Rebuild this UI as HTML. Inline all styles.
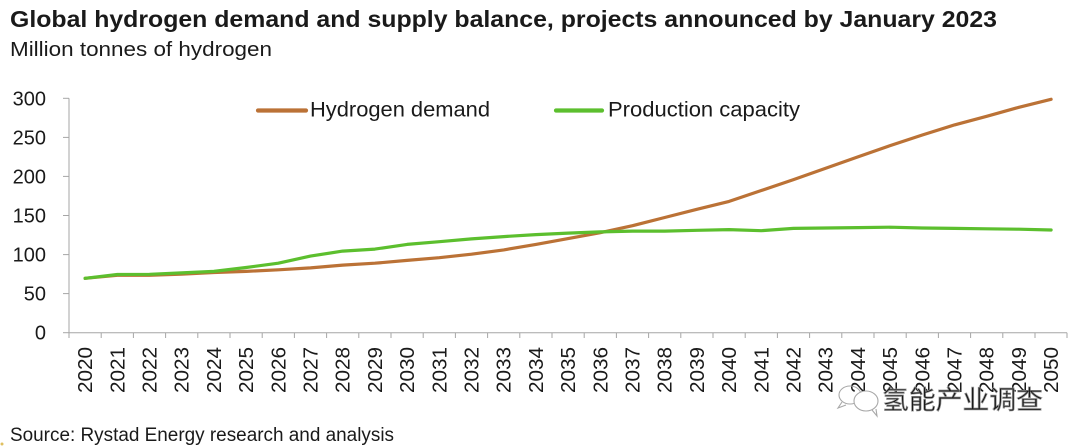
<!DOCTYPE html>
<html>
<head>
<meta charset="utf-8">
<style>
  html,body{margin:0;padding:0;background:#fff;}
  body{width:1080px;height:448px;overflow:hidden;}
  svg{display:block;}
  text{font-family:"Liberation Sans","Noto Sans CJK SC",sans-serif;fill:#1a1a1a;}
</style>
</head>
<body>
<svg width="1080" height="448" viewBox="0 0 1080 448" xmlns="http://www.w3.org/2000/svg">
  <rect width="1080" height="448" fill="#fff"/>
  <!-- Title -->
  <text x="10" y="27" font-size="23" font-weight="bold" textLength="987" lengthAdjust="spacingAndGlyphs">Global hydrogen demand and supply balance, projects announced by January 2023</text>
  <text x="10" y="56" font-size="20" textLength="262" lengthAdjust="spacingAndGlyphs" fill="#222">Million tonnes of hydrogen</text>

  <!-- Axes -->
  <g stroke="#a6a6a6" stroke-width="1" fill="none">
    <line x1="69" y1="98.3" x2="69" y2="332.7"/>
    <line x1="69" y1="332.7" x2="1067" y2="332.7"/>
    <!-- y ticks -->
    <line x1="63" y1="332.7" x2="69" y2="332.7"/>
    <line x1="63" y1="293.6" x2="69" y2="293.6"/>
    <line x1="63" y1="254.6" x2="69" y2="254.6"/>
    <line x1="63" y1="215.5" x2="69" y2="215.5"/>
    <line x1="63" y1="176.4" x2="69" y2="176.4"/>
    <line x1="63" y1="137.4" x2="69" y2="137.4"/>
    <line x1="63" y1="98.3" x2="69" y2="98.3"/>
    <!-- x ticks -->
    <line x1="69" y1="332.7" x2="69" y2="338"/>
    <line x1="101.2" y1="332.7" x2="101.2" y2="338"/>
    <line x1="133.4" y1="332.7" x2="133.4" y2="338"/>
    <line x1="165.6" y1="332.7" x2="165.6" y2="338"/>
    <line x1="197.8" y1="332.7" x2="197.8" y2="338"/>
    <line x1="230" y1="332.7" x2="230" y2="338"/>
    <line x1="262.2" y1="332.7" x2="262.2" y2="338"/>
    <line x1="294.4" y1="332.7" x2="294.4" y2="338"/>
    <line x1="326.6" y1="332.7" x2="326.6" y2="338"/>
    <line x1="358.8" y1="332.7" x2="358.8" y2="338"/>
    <line x1="391" y1="332.7" x2="391" y2="338"/>
    <line x1="423.2" y1="332.7" x2="423.2" y2="338"/>
    <line x1="455.4" y1="332.7" x2="455.4" y2="338"/>
    <line x1="487.6" y1="332.7" x2="487.6" y2="338"/>
    <line x1="519.8" y1="332.7" x2="519.8" y2="338"/>
    <line x1="552" y1="332.7" x2="552" y2="338"/>
    <line x1="584.2" y1="332.7" x2="584.2" y2="338"/>
    <line x1="616.4" y1="332.7" x2="616.4" y2="338"/>
    <line x1="648.6" y1="332.7" x2="648.6" y2="338"/>
    <line x1="680.8" y1="332.7" x2="680.8" y2="338"/>
    <line x1="713" y1="332.7" x2="713" y2="338"/>
    <line x1="745.2" y1="332.7" x2="745.2" y2="338"/>
    <line x1="777.4" y1="332.7" x2="777.4" y2="338"/>
    <line x1="809.6" y1="332.7" x2="809.6" y2="338"/>
    <line x1="841.8" y1="332.7" x2="841.8" y2="338"/>
    <line x1="874" y1="332.7" x2="874" y2="338"/>
    <line x1="906.2" y1="332.7" x2="906.2" y2="338"/>
    <line x1="938.4" y1="332.7" x2="938.4" y2="338"/>
    <line x1="970.6" y1="332.7" x2="970.6" y2="338"/>
    <line x1="1002.8" y1="332.7" x2="1002.8" y2="338"/>
    <line x1="1035" y1="332.7" x2="1035" y2="338"/>
    <line x1="1067" y1="332.7" x2="1067" y2="338"/>
  </g>

  <!-- Y labels -->
  <g font-size="20" text-anchor="end">
    <text x="46" y="339.7">0</text>
    <text x="46" y="300.6">50</text>
    <text x="46" y="261.6">100</text>
    <text x="46" y="222.5">150</text>
    <text x="46" y="183.4">200</text>
    <text x="46" y="144.4">250</text>
    <text x="46" y="105.3">300</text>
  </g>

  <!-- X labels (rotated) -->
  <g font-size="20" text-anchor="end">
    <text transform="translate(92.1,347) rotate(-90)" textLength="46" lengthAdjust="spacingAndGlyphs">2020</text>
    <text transform="translate(124.3,347) rotate(-90)" textLength="46" lengthAdjust="spacingAndGlyphs">2021</text>
    <text transform="translate(156.5,347) rotate(-90)" textLength="46" lengthAdjust="spacingAndGlyphs">2022</text>
    <text transform="translate(188.7,347) rotate(-90)" textLength="46" lengthAdjust="spacingAndGlyphs">2023</text>
    <text transform="translate(220.9,347) rotate(-90)" textLength="46" lengthAdjust="spacingAndGlyphs">2024</text>
    <text transform="translate(253.1,347) rotate(-90)" textLength="46" lengthAdjust="spacingAndGlyphs">2025</text>
    <text transform="translate(285.3,347) rotate(-90)" textLength="46" lengthAdjust="spacingAndGlyphs">2026</text>
    <text transform="translate(317.5,347) rotate(-90)" textLength="46" lengthAdjust="spacingAndGlyphs">2027</text>
    <text transform="translate(349.7,347) rotate(-90)" textLength="46" lengthAdjust="spacingAndGlyphs">2028</text>
    <text transform="translate(381.9,347) rotate(-90)" textLength="46" lengthAdjust="spacingAndGlyphs">2029</text>
    <text transform="translate(414.1,347) rotate(-90)" textLength="46" lengthAdjust="spacingAndGlyphs">2030</text>
    <text transform="translate(446.3,347) rotate(-90)" textLength="46" lengthAdjust="spacingAndGlyphs">2031</text>
    <text transform="translate(478.5,347) rotate(-90)" textLength="46" lengthAdjust="spacingAndGlyphs">2032</text>
    <text transform="translate(510.7,347) rotate(-90)" textLength="46" lengthAdjust="spacingAndGlyphs">2033</text>
    <text transform="translate(542.9,347) rotate(-90)" textLength="46" lengthAdjust="spacingAndGlyphs">2034</text>
    <text transform="translate(575.1,347) rotate(-90)" textLength="46" lengthAdjust="spacingAndGlyphs">2035</text>
    <text transform="translate(607.3,347) rotate(-90)" textLength="46" lengthAdjust="spacingAndGlyphs">2036</text>
    <text transform="translate(639.5,347) rotate(-90)" textLength="46" lengthAdjust="spacingAndGlyphs">2037</text>
    <text transform="translate(671.7,347) rotate(-90)" textLength="46" lengthAdjust="spacingAndGlyphs">2038</text>
    <text transform="translate(703.9,347) rotate(-90)" textLength="46" lengthAdjust="spacingAndGlyphs">2039</text>
    <text transform="translate(736.1,347) rotate(-90)" textLength="46" lengthAdjust="spacingAndGlyphs">2040</text>
    <text transform="translate(768.3,347) rotate(-90)" textLength="46" lengthAdjust="spacingAndGlyphs">2041</text>
    <text transform="translate(800.5,347) rotate(-90)" textLength="46" lengthAdjust="spacingAndGlyphs">2042</text>
    <text transform="translate(832.7,347) rotate(-90)" textLength="46" lengthAdjust="spacingAndGlyphs">2043</text>
    <text transform="translate(864.9,347) rotate(-90)" textLength="46" lengthAdjust="spacingAndGlyphs">2044</text>
    <text transform="translate(897.1,347) rotate(-90)" textLength="46" lengthAdjust="spacingAndGlyphs">2045</text>
    <text transform="translate(929.3,347) rotate(-90)" textLength="46" lengthAdjust="spacingAndGlyphs">2046</text>
    <text transform="translate(961.5,347) rotate(-90)" textLength="46" lengthAdjust="spacingAndGlyphs">2047</text>
    <text transform="translate(993.7,347) rotate(-90)" textLength="46" lengthAdjust="spacingAndGlyphs">2048</text>
    <text transform="translate(1025.9,347) rotate(-90)" textLength="46" lengthAdjust="spacingAndGlyphs">2049</text>
    <text transform="translate(1058.1,347) rotate(-90)" textLength="46" lengthAdjust="spacingAndGlyphs">2050</text>
  </g>

  <!-- Series: Hydrogen demand -->
  <polyline fill="none" stroke="#bb7236" stroke-width="3.2" stroke-linejoin="round" stroke-linecap="round"
    points="85.1,278.3 117.3,275.3 149.5,275.3 181.7,274.1 213.9,272.5 246.1,271.4 278.3,269.8 310.5,267.9 342.7,265.1 374.9,263.2 407.1,260.4 439.3,257.7 471.5,254.2 503.7,249.9 535.9,244.4 568.1,238.6 600.3,232.7 632.5,225.7 664.7,217.5 696.9,209.3 729.1,201.4 761.3,190.5 793.5,179.6 825.7,168.2 857.9,156.9 890.1,145.6 922.3,135.0 954.5,124.9 986.7,116.3 1018.9,107.3 1051.1,99.3"/>
  <!-- Series: Production capacity -->
  <polyline fill="none" stroke="#5cbf2e" stroke-width="3.2" stroke-linejoin="round" stroke-linecap="round"
    points="85.1,278.3 117.3,274.5 149.5,274.3 181.7,272.9 213.9,271.4 246.1,267.5 278.3,263.2 310.5,256.1 342.7,251.1 374.9,249.1 407.1,244.4 439.3,241.7 471.5,238.9 503.7,236.6 535.9,234.6 568.1,233.1 600.3,231.9 632.5,231.1 664.7,231.1 696.9,230.3 729.1,229.6 761.3,230.7 793.5,228.4 825.7,228.0 857.9,227.6 890.1,227.2 922.3,228.0 954.5,228.4 986.7,228.8 1018.9,229.2 1051.1,230.0"/>

  <!-- Legend -->
  <line x1="258" y1="110.5" x2="306" y2="110.5" stroke="#bb7236" stroke-width="4.2" stroke-linecap="round"/>
  <text x="310" y="116.5" font-size="21" textLength="180" lengthAdjust="spacingAndGlyphs">Hydrogen demand</text>
  <line x1="556" y1="110.5" x2="602" y2="110.5" stroke="#5cbf2e" stroke-width="4.2" stroke-linecap="round"/>
  <text x="608" y="116.5" font-size="21" textLength="192" lengthAdjust="spacingAndGlyphs">Production capacity</text>

  <!-- Watermark -->
  <g fill="none" stroke="#a8a8a8" stroke-width="1.1">
    <ellipse cx="850" cy="395" rx="11" ry="9"/>
    <ellipse cx="866" cy="401" rx="12" ry="10" fill="#fff"/>
    <path d="M842,402 l-4,6 l8,-3"/>
    <path d="M872,410 l5,6 l-1,-7"/>
  </g>
  <text x="882" y="409" font-size="26" fill="#f2f2f2" stroke="#9a9a9a" stroke-width="0.7" textLength="161" lengthAdjust="spacingAndGlyphs" style="font-family:'Noto Sans CJK SC',sans-serif;">氢能产业调查</text>

  <!-- Source -->
  <text x="10" y="441" font-size="19" textLength="384" lengthAdjust="spacingAndGlyphs" fill="#222">Source: Rystad Energy research and analysis</text>
  <circle cx="2" cy="444" r="1.5" fill="#e0c060"/>
</svg>
</body>
</html>
